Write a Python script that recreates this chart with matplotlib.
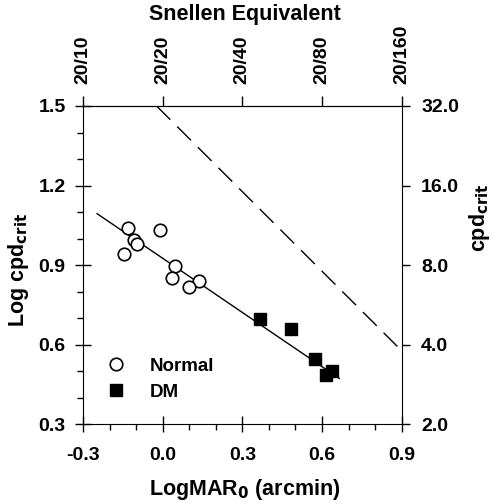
import numpy as np
import matplotlib
matplotlib.use("Agg")
import matplotlib.pyplot as plt
from matplotlib.ticker import MultipleLocator

plt.rcParams['font.family'] = ['Liberation Sans', 'DejaVu Sans']
plt.rcParams['font.weight'] = 'bold'

# Нормальные испытуемые
normal_x = [-0.132, -0.010, -0.108, -0.096, -0.145, 0.046, 0.035, 0.136, 0.098]
normal_y = [1.039, 1.031, 0.995, 0.979, 0.941, 0.897, 0.853, 0.841, 0.819]

# Группа DM
dm_x = [0.366, 0.482, 0.574, 0.638, 0.615]
dm_y = [0.696, 0.659, 0.545, 0.499, 0.484]

# Линия регрессии (концы)
fit_x = [-0.247, 0.665]
fit_y = [1.094, 0.473]

# Теоретическая линия: log cpd = log(30) - logMAR
theory_x = [-0.023, 0.9]
theory_y = [1.5, 0.577]

x_ticks = [-0.3, 0.0, 0.3, 0.6, 0.9]
y_ticks = [0.3, 0.6, 0.9, 1.2, 1.5]
snellen_labels = ["20/10", "20/20", "20/40", "20/80", "20/160"]
cpd_labels = ["2.0", "4.0", "8.0", "16.0", "32.0"]

TICK_FS = 14
LABEL_FS = 15.5

fig = plt.figure(figsize=(4.92, 5.03), dpi=100)
ax = fig.add_axes([0.1687, 0.1565, 0.6478, 0.6328])

ax.plot(theory_x, theory_y, color="black", lw=1.0, dashes=(14, 7))
ax.plot(fit_x, fit_y, color="black", lw=1.0)
ax.plot(normal_x, normal_y, "o", mfc="white", mec="black", mew=1.2, ms=9, label="Normal")
ax.plot(dm_x, dm_y, "s", mfc="black", mec="black", ms=8, label="DM")

ax.set_xlim(-0.3, 0.9)
ax.set_ylim(0.3, 1.5)
ax.set_xticks(x_ticks)
ax.set_xticklabels([f"{v:.1f}" for v in x_ticks])
ax.set_yticks(y_ticks)
ax.set_yticklabels([f"{v:.1f}" for v in y_ticks])
ax.xaxis.set_minor_locator(MultipleLocator(0.1))
ax.yaxis.set_minor_locator(MultipleLocator(0.1))
ax.tick_params(which="major", direction="inout", length=11, width=1, labelsize=TICK_FS)
ax.tick_params(axis="x", which="major", pad=11)
ax.tick_params(axis="y", which="major", pad=7)
ax.tick_params(which="minor", direction="out", length=4, width=1)
ax.spines["top"].set_visible(False)
ax.spines["right"].set_visible(False)

ax.set_xlabel("LogMAR$_\\mathbf{0}$ (arcmin)", fontsize=LABEL_FS, fontweight="bold")
ax.set_ylabel("Log cpd$_\\mathbf{crit}$", fontsize=LABEL_FS, fontweight="bold")
ax.xaxis.set_label_coords(0.508, -0.165)
ax.yaxis.set_label_coords(-0.162, 0.485)

# Верхняя ось: эквивалент Снеллена
top = ax.twiny()
top.set_xlim(ax.get_xlim())
top.set_xticks(x_ticks)
top.set_xticklabels(snellen_labels, rotation=90)
top.tick_params(direction="out", length=7, width=1, labelsize=TICK_FS, pad=9)
top.set_xlabel("Snellen Equivalent", fontsize=LABEL_FS, fontweight="bold")
top.xaxis.set_label_coords(0.508, 1.27)
top.spines["right"].set_visible(False)
top.spines["left"].set_visible(False)
top.spines["bottom"].set_visible(False)

# Правая ось: cpd
right = ax.twinx()
right.set_ylim(ax.get_ylim())
right.set_yticks(y_ticks)
right.set_yticklabels(cpd_labels)
right.tick_params(direction="out", length=6, width=1, labelsize=TICK_FS, pad=8)
right.set_ylabel("cpd$_\\mathbf{crit}$", fontsize=LABEL_FS, fontweight="bold")
right.yaxis.set_label_coords(1.205, 0.65)
right.spines["left"].set_visible(False)
right.spines["bottom"].set_visible(False)

for a in (ax, top, right):
    for lab in a.get_xticklabels() + a.get_yticklabels():
        lab.set_fontweight("bold")

ax.legend(loc="lower left", bbox_to_anchor=(0.02, 0.02), frameon=False,
          handletextpad=1.3, labelspacing=0.5, handlelength=1.0,
          prop={"weight": "bold", "size": 13.5})

fig.savefig("out.png", dpi=100)
